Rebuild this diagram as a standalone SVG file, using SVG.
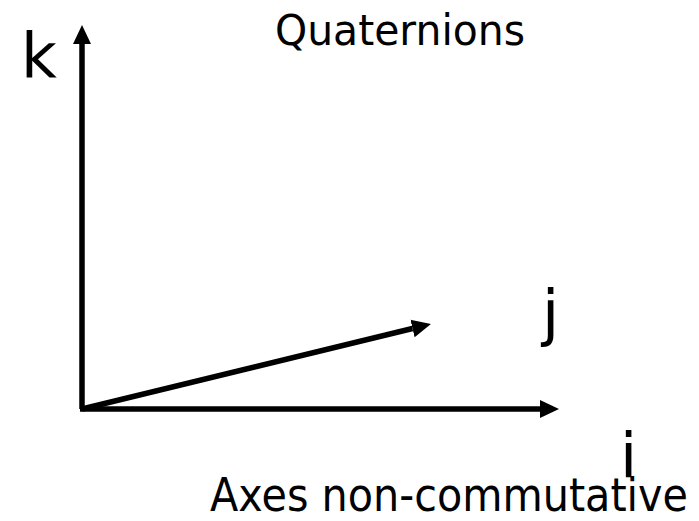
<svg xmlns="http://www.w3.org/2000/svg" width="699" height="521" viewBox="0 0 699 521">
<defs>
<style>
.t{font-family:"DejaVu Sans","Verdana",sans-serif;fill:#000}
.ax{stroke:#000;stroke-width:5.5;fill:none;marker-end:url(#ah)}
</style>
<marker id="ah" markerUnits="userSpaceOnUse" markerWidth="20" markerHeight="20" viewBox="0 -10 20 20" refX="0" refY="0" orient="auto">
<path d="M0,-9 L19,0 L0,9 z" fill="#000"/>
</marker>
</defs>
<rect width="699" height="521" fill="#fff"/>
<g id="connectors">
<path class="ax" d="M82,409 L82,44"/>
<path class="ax" d="M80,409 L540,409"/>
<path class="ax" d="M82,409 L412.5,328.5"/>
</g>
<g id="title"><text class="t" x="275" y="45" font-size="43" textLength="250" lengthAdjust="spacingAndGlyphs">Quaternions</text></g>
<g id="label-k"><text class="t" x="21" y="77" font-size="62">k</text></g>
<g id="label-j"><text class="t" x="542" y="334" font-size="62">j</text></g>
<g id="label-i"><text class="t" x="620" y="477" font-size="62">i</text></g>
<g id="caption"><text class="t" x="210" y="511" font-size="46" textLength="478" lengthAdjust="spacingAndGlyphs">Axes non-commutative</text></g>
</svg>
